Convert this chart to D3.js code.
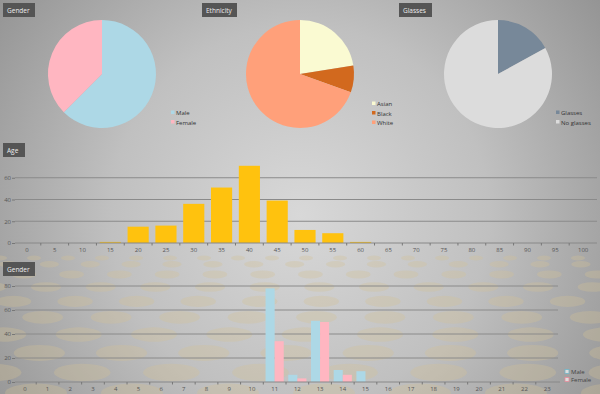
<!DOCTYPE html>
<html>
<head>
<meta charset="utf-8">
<script src="https://cdn.jsdelivr.net/npm/d3@7"></script>
<style>
  body { margin: 0; padding: 0; overflow: hidden; }
  svg { display: block; font-family: "Open Sans", sans-serif; }
</style>
</head>
<body>
<script>
// pie data
var genderLabels = ["Male", "Female"];
var genderShares = [62.5, 37.5];
var ethnicityLabels = ["Asian", "Black", "White"];
var ethnicityShares = [22.5, 8, 69.5];
var glassesLabels = ["Glasses", "No glasses"];
var glassesShares = [17, 83];

// age histogram
var ageBins = ["0","5","10","15","20","25","30","35","40","45","50","55","60","65","70","75","80","85","90","95","100"];
var ageCounts = [0, 0, 0, 1, 15, 16, 36, 51, 71, 39, 12, 9, 1, 0, 0, 0, 0, 0, 0, 0, 0];
var ageTicks = [0, 20, 40, 60];

// gender histogram
var genderBins = ["0","1","2","3","4","5","6","7","8","9","10","11","12","13","14","15","16","17","18","19","20","21","22","23"];
var maleCounts   = [0,0,0,0,0,0,0,0,0,0,0,78,6,51,10,9,0,0,0,0,0,0,0,0];
var femaleCounts = [0,0,0,0,0,0,0,0,0,0,0,34,3,50,6,0,0,0,0,0,0,0,0,0];
var genderTicks = [0, 20, 40, 60, 80];

var width = 600, height = 394;

var svg = d3.select("body").append("svg")
    .attr("width", width)
    .attr("height", height);

// background
var defs = svg.append("defs");
var grad = defs.append("radialGradient").attr("id", "bg")
    .attr("gradientUnits", "userSpaceOnUse")
    .attr("cx", 300).attr("cy", 215).attr("r", 420);
grad.append("stop").attr("offset", "0").attr("stop-color", "#d8d8d8");
grad.append("stop").attr("offset", "0.45").attr("stop-color", "#c0c0c0");
grad.append("stop").attr("offset", "1").attr("stop-color", "#888");
svg.append("rect").attr("width", width).attr("height", height).attr("fill", "url(#bg)");

// faint beige dots in perspective on the lower part
var dots = svg.append("g").attr("fill", "#d4c296").attr("opacity", 0.32);
for (var r = 0; r < 10; r++) {
  var t = r / 9;
  var cy = 258 + Math.pow(t, 1.4) * 135;
  var rx = 7 + t * 24, ry = 2.5 + t * 7;
  var gap = 34 + t * 62;
  var shift = (r % 2) * gap / 2 - r * 12;
  for (var cx = shift - gap; cx < width + gap; cx += gap) {
    dots.append("ellipse").attr("cx", cx).attr("cy", cy).attr("rx", rx).attr("ry", ry);
  }
}

function titleBox(x, y, w, label) {
  svg.append("rect").attr("x", x).attr("y", y).attr("width", w).attr("height", 14)
      .attr("fill", "#555");
  svg.append("text").attr("x", x + 4).attr("y", y + 9.5)
      .attr("fill", "#eee").attr("font-size", 6.5).text(label);
}

// pies
function drawPie(cx, cy, labels, values, colors, legendX, legendY) {
  var color = d3.scaleOrdinal().domain(labels).range(colors);
  var pie = d3.pie().sort(null).value(function(d, i) { return values[i]; });
  var arc = d3.arc().innerRadius(0).outerRadius(54);
  var g = svg.append("g").attr("transform", "translate(" + cx + "," + cy + ")");
  g.selectAll("path")
      .data(pie(labels))
    .enter().append("path")
      .attr("d", arc)
      .attr("fill", function(d) { return color(d.data); });

  var lg = svg.append("g").attr("transform", "translate(" + legendX + "," + legendY + ")");
  var items = lg.selectAll("g").data(labels).enter().append("g")
      .attr("transform", function(d, i) { return "translate(0," + (i * 9.5) + ")"; });
  items.append("rect").attr("x", 0).attr("y", -3.5).attr("width", 3.5).attr("height", 3.5)
      .attr("fill", function(d) { return color(d); });
  items.append("text").attr("x", 5).attr("y", 1).attr("font-size", 6)
      .attr("fill", "#333").text(function(d) { return d; });
}

titleBox(3, 3, 32, "Gender");
titleBox(202, 3, 35, "Ethnicity");
titleBox(399, 3, 33, "Glasses");

drawPie(102, 74, genderLabels, genderShares, ["#add8e6", "#ffb6c1"], 171, 114);
drawPie(300, 74, ethnicityLabels, ethnicityShares, ["#fafad2", "#d2691e", "#ffa07a"], 372, 105);
drawPie(498, 74, glassesLabels, glassesShares, ["#778899", "#dcdcdc"], 556, 114);

// age chart
titleBox(3, 143, 22, "Age");

var xAge = d3.scaleBand().domain(ageBins).range([13, 597]).paddingInner(0.24).paddingOuter(0.12);
var yAge = d3.scaleLinear().domain([0, 80]).range([243, 156]);

var ga = svg.append("g");
ga.selectAll(".grid").data(ageTicks.slice(1)).enter().append("line")
    .attr("x1", 15).attr("x2", 597)
    .attr("y1", function(d) { return yAge(d); }).attr("y2", function(d) { return yAge(d); })
    .attr("stroke", "#8a8a8a").attr("stroke-width", 1);

ga.selectAll(".bar").data(ageCounts).enter().append("rect")
    .attr("x", function(d, i) { return xAge(ageBins[i]); })
    .attr("width", xAge.bandwidth())
    .attr("y", function(d) { return yAge(d); })
    .attr("height", function(d) { return yAge(0) - yAge(d); })
    .attr("fill", "#ffc20e");

ga.append("g").attr("transform", "translate(15,0)")
    .call(d3.axisLeft(yAge).tickValues(ageTicks).tickSize(3).tickPadding(1))
    .call(function(a) { a.select(".domain").remove(); });

ga.append("g").attr("transform", "translate(0,243)")
    .call(d3.axisBottom(xAge).tickSize(0).tickPadding(5))
    .call(function(a) { a.select(".domain").attr("d", "M15,0H597"); });

// small ticks between bins
ga.selectAll(".minor").data(ageBins.slice(1)).enter().append("line")
    .attr("x1", function(d) { return xAge(d) - xAge.step() * 0.12; })
    .attr("x2", function(d) { return xAge(d) - xAge.step() * 0.12; })
    .attr("y1", 243).attr("y2", 245.5).attr("stroke", "#777");

// gender histogram
titleBox(3, 262, 32, "Gender");

var xG = d3.scaleBand().domain(genderBins).range([13.5, 558.5]).paddingInner(0.2).paddingOuter(0.1);
var xSub = d3.scaleBand().domain(["Male", "Female"]).range([0, xG.bandwidth()]);
var yG = d3.scaleLinear().domain([0, 80]).range([382, 286]);

var gg = svg.append("g");
gg.selectAll(".grid").data(genderTicks.slice(1)).enter().append("line")
    .attr("x1", 15).attr("x2", 558)
    .attr("y1", function(d) { return yG(d); }).attr("y2", function(d) { return yG(d); })
    .attr("stroke", "#8a8a8a").attr("stroke-width", 1);

var series = [
  { name: "Male", values: maleCounts, color: "#add8e6", edge: "#6fb5c8" },
  { name: "Female", values: femaleCounts, color: "#ffb6c1", edge: "#e88a9a" }
];

series.forEach(function(s) {
  gg.selectAll(".bar-" + s.name).data(s.values).enter().append("rect")
      .attr("x", function(d, i) { return xG(genderBins[i]) + xSub(s.name); })
      .attr("width", xSub.bandwidth())
      .attr("y", function(d) { return yG(d); })
      .attr("height", function(d) { return yG(0) - yG(d); })
      .attr("fill", s.color);
});

gg.append("g").attr("transform", "translate(15,0)")
    .call(d3.axisLeft(yG).tickValues(genderTicks).tickSize(3).tickPadding(1))
    .call(function(a) { a.select(".domain").remove(); });

gg.append("g").attr("transform", "translate(0,382)")
    .call(d3.axisBottom(xG).tickSize(0).tickPadding(5))
    .call(function(a) { a.select(".domain").attr("d", "M15,0H560"); });

gg.selectAll(".minor").data(genderBins.slice(1)).enter().append("line")
    .attr("x1", function(d) { return xG(d) - xG.step() * 0.1; })
    .attr("x2", function(d) { return xG(d) - xG.step() * 0.1; })
    .attr("y1", 382).attr("y2", 384.5).attr("stroke", "#777");

// legend for the grouped bars
var lgB = svg.append("g").attr("transform", "translate(565,373)");
var li = lgB.selectAll("g").data(series).enter().append("g")
    .attr("transform", function(d, i) { return "translate(0," + (i * 8) + ")"; });
li.append("rect").attr("x", 0).attr("y", -3.5).attr("width", 4).attr("height", 4)
    .attr("fill", "#ddd").attr("stroke", function(d) { return d.edge; })
    .attr("stroke-width", 0.8);
li.append("text").attr("x", 6).attr("y", 1).attr("font-size", 6).attr("fill", "#444")
    .text(function(d) { return d.name; });

// axis text styling
svg.selectAll(".tick text").attr("font-size", 6).attr("fill", "#555")
    .attr("font-family", "Open Sans, sans-serif");
svg.selectAll(".tick line").attr("stroke", "#777");
svg.selectAll(".domain").attr("stroke", "#888");
</script>
</body>
</html>
